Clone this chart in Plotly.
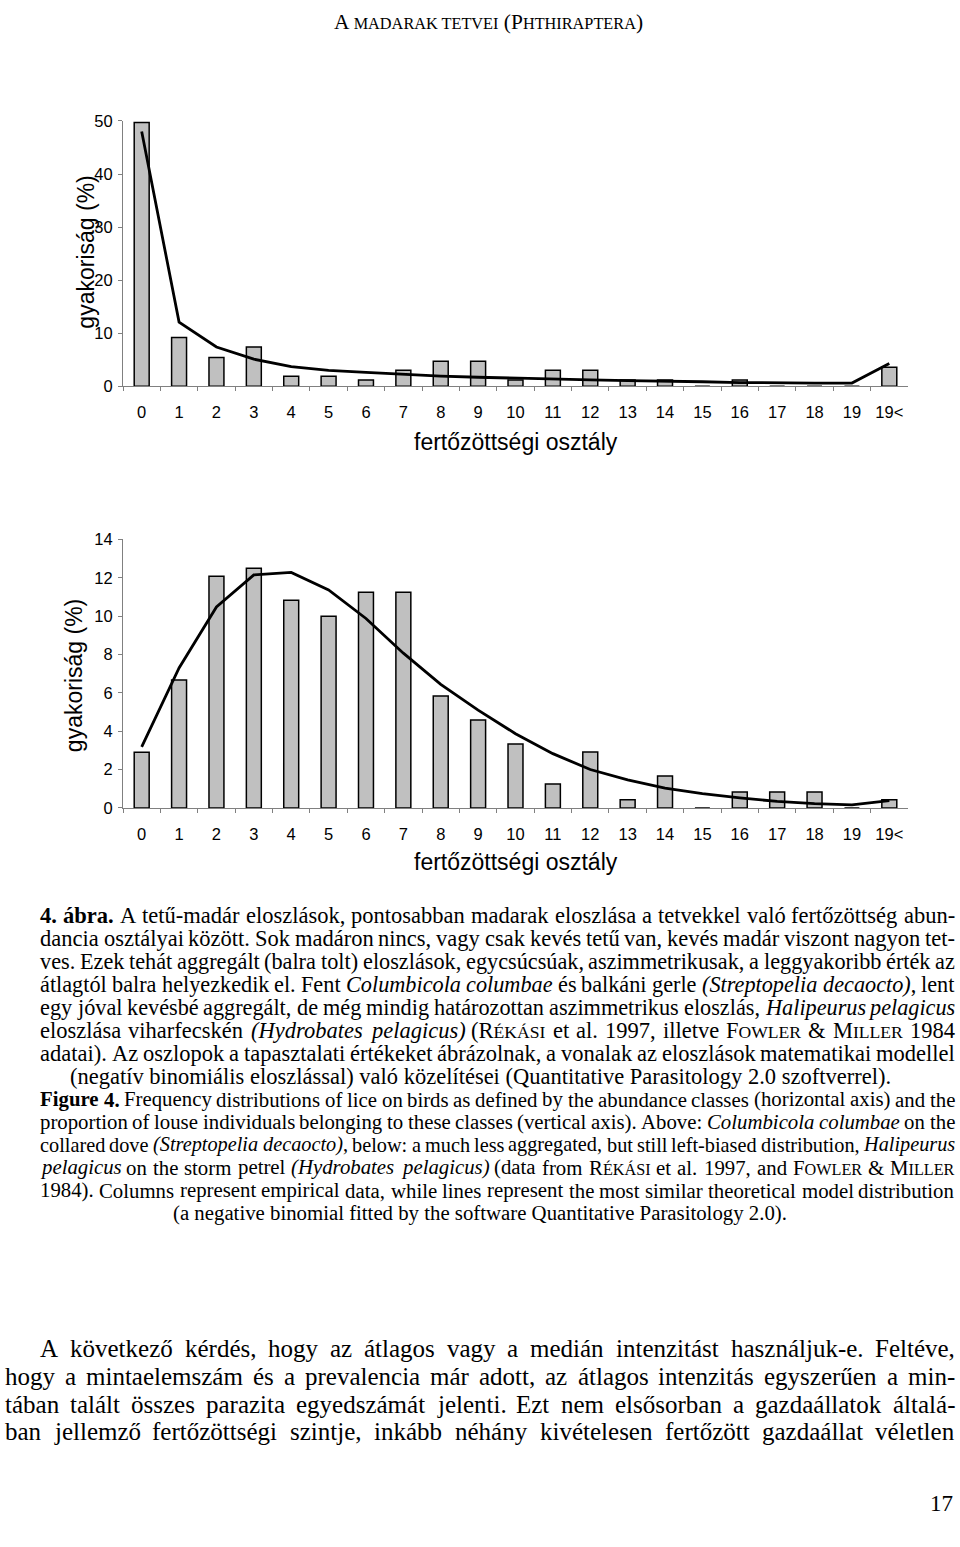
import re
import unicodedata
import plotly.graph_objects as go

W, H = 960, 1547

# ---------------- data ----------------
categories = [str(i) for i in range(20)] + ["19<"]
upper_observed = [49.7, 9.2, 5.4, 7.4, 1.9, 1.9, 1.2, 3.0, 4.7, 4.7, 1.2, 3.0, 3.0, 1.2, 1.2, 0, 1.2, 0, 0, 0, 3.6]
upper_fitted = [48.0, 12.1, 7.4, 5.1, 3.7, 3.0, 2.6, 2.2, 1.9, 1.7, 1.5, 1.35, 1.2, 1.05, 1.0, 0.85, 0.7, 0.6, 0.6, 0.6, 4.3]
lower_observed = [2.9, 6.67, 12.08, 12.5, 10.83, 10.0, 11.25, 11.25, 5.83, 4.58, 3.33, 1.25, 2.92, 0.42, 1.67, 0, 0.83, 0.83, 0.83, 0, 0.42]
lower_fitted = [3.18, 7.3, 10.48, 12.15, 12.28, 11.37, 9.88, 8.07, 6.44, 5.1, 3.87, 2.83, 2.0, 1.46, 1.03, 0.74, 0.52, 0.34, 0.22, 0.16, 0.38]
upper_ticks = [0, 10, 20, 30, 40, 50]
lower_ticks = [0, 2, 4, 6, 8, 10, 12, 14]
y_title = "gyakoriság (%)"
x_title = "fertőzöttségi osztály"

# ---------------- geometry helpers ----------------
def px(x):
    return x / W


def py(y):
    return 1 - y / H


SANS = "Arial, Liberation Sans, sans-serif"
SERIF = "Times New Roman, Liberation Serif, serif"

fig = go.Figure()

panels = [
    dict(xa="x", ya="y", top=113.3, bottom=381.7, obs=upper_observed, fit=upper_fitted,
         ymax=50, ticks=upper_ticks, ytx=86, yty=246.5, xty=438),
    dict(xa="x2", ya="y2", top=536.7, bottom=808.3, obs=lower_observed, fit=lower_fitted,
         ymax=14, ticks=lower_ticks, ytx=74, yty=675, xty=863),
]
left, right = 123, 908

annotations = []
for i, p in enumerate(panels):
    fig.add_trace(go.Bar(x=categories, y=p["obs"], width=0.4, xaxis=p["xa"], yaxis=p["ya"],
                         marker=dict(color="#c0c0c0", line=dict(color="black", width=1.5)),
                         showlegend=False))
    fig.add_trace(go.Scatter(x=categories, y=p["fit"], mode="lines", xaxis=p["xa"], yaxis=p["ya"],
                             line=dict(color="black", width=2.8), showlegend=False))
    suffix = "" if i == 0 else "2"
    fig.layout["xaxis" + suffix] = dict(
        domain=[px(left), px(right)], anchor=p["ya"], type="category", range=[-0.5, 20.5],
        showline=True, linecolor="#808080", linewidth=1, ticks="outside", ticklen=4,
        tickcolor="#808080", tickson="boundaries", showgrid=False, zeroline=False,
        tickfont=dict(family=SANS, size=16.5, color="black"), ticklabelstandoff=11,
        fixedrange=True)
    fig.layout["yaxis" + suffix] = dict(
        domain=[py(p["bottom"]), py(p["top"])], anchor=p["xa"], range=[0, p["ymax"]],
        tickvals=p["ticks"], showline=True, linecolor="#808080", linewidth=1,
        ticks="outside", ticklen=4, tickcolor="#808080", showgrid=False, zeroline=False,
        tickfont=dict(family=SANS, size=16.5, color="black"), ticklabelstandoff=2,
        fixedrange=True)
    annotations.append(dict(x=px(p["ytx"]), y=py(p["yty"]), xref="paper", yref="paper",
                            text=y_title, textangle=-90, showarrow=False,
                            font=dict(family=SANS, size=23, color="black"),
                            xanchor="center", yanchor="middle"))
    annotations.append(dict(x=px((left + right) / 2), y=py(p["xty"]), xref="paper", yref="paper",
                            text=x_title, showarrow=False,
                            font=dict(family=SANS, size=23, color="black"),
                            xanchor="center", yanchor="middle"))

# ---------------- text layout (Times metrics) ----------------
ROMAN = {' ': 250, '!': 333, '"': 408, '%': 833, '&': 778, "'": 180, '(': 333, ')': 333, '+': 564,
         ',': 250, '-': 333, '.': 250, '/': 278, ':': 278, ';': 278, '<': 564, '?': 444,
         'A': 722, 'B': 667, 'C': 667, 'D': 722, 'E': 611, 'F': 556, 'G': 722, 'H': 722, 'I': 333,
         'J': 389, 'K': 722, 'L': 611, 'M': 889, 'N': 722, 'O': 722, 'P': 556, 'Q': 722, 'R': 667,
         'S': 556, 'T': 611, 'U': 722, 'V': 722, 'W': 944, 'X': 722, 'Y': 722, 'Z': 611,
         'a': 444, 'b': 500, 'c': 444, 'd': 500, 'e': 444, 'f': 333, 'g': 500, 'h': 500, 'i': 278,
         'j': 278, 'k': 500, 'l': 278, 'm': 778, 'n': 500, 'o': 500, 'p': 500, 'q': 500, 'r': 333,
         's': 389, 't': 278, 'u': 500, 'v': 500, 'w': 722, 'x': 500, 'y': 500, 'z': 444}
for d in "0123456789":
    ROMAN[d] = 500
ITAL = dict(ROMAN)
ITAL.update({'a': 500, 'f': 278, 'k': 444, 'm': 722, 'r': 389, 'v': 444, 'w': 667, 'x': 444,
             'y': 444, 'z': 389, 'S': 500, 'P': 611})
BOLD = dict(ROMAN)
BOLD.update({'a': 500, 'b': 556, 'r': 444, 'u': 556, 'F': 611, 'g': 500})
SC = 0.78


def base(ch):
    return unicodedata.normalize("NFD", ch)[0]


def run_width(text, style, size):
    if style == "sc":
        return sum(ROMAN.get(base(c), 600) for c in text.upper()) * size * SC / 1000
    table = {"i": ITAL, "b": BOLD}.get(style, ROMAN)
    return sum(table.get(base(c), 500) for c in text) * size / 1000


TAG = re.compile(r"</?(i|b|sc)>")


def parse(s):
    words, cur, buf, style, k = [], [], "", "r", 0
    while k < len(s):
        m = TAG.match(s, k)
        if m:
            if buf:
                cur.append((buf, style))
                buf = ""
            style = "r" if m.group(0).startswith("</") else m.group(1)
            k = m.end()
            continue
        ch = s[k]
        if ch == " ":
            if buf:
                cur.append((buf, style))
                buf = ""
            if cur:
                words.append(cur)
                cur = []
        else:
            buf += ch
        k += 1
    if buf:
        cur.append((buf, style))
    if cur:
        words.append(cur)
    return words


def esc(t):
    return t.replace("&", "&amp;").replace("<", "&lt;").replace(">", "&gt;")


def html(runs, size):
    out = ""
    for t, st in runs:
        if st == "i":
            out += "<i>" + esc(t) + "</i>"
        elif st == "b":
            out += "<b>" + esc(t) + "</b>"
        elif st == "sc":
            out += '<span style="font-size:%.1fpx">%s</span>' % (size * SC, esc(t.upper()))
        else:
            out += esc(t)
    return out


def text_line(s, y, size, x0, x1, mode, center=None):
    words = parse(s)
    if mode == "c":
        font = dict(family=SERIF, size=size, color="black")
        full = " ".join(html(w, size) for w in words)
        cx = center if center is not None else (x0 + x1) / 2
        annotations.append(dict(text=full, x=px(cx), xanchor="center", xref="paper",
                                yref="paper", showarrow=False, yanchor="middle", borderpad=0,
                                borderwidth=0, font=font, y=py(y)))
        return
    # shrink the size of this line if the words would not fit with a minimal gap
    while True:
        widths = [sum(run_width(t, st, size) for t, st in w) for w in words]
        gap = (x1 - x0 - sum(widths)) / max(len(words) - 1, 1)
        if gap >= 0.2 * size or size < 10:
            break
        size -= 0.25
    font = dict(family=SERIF, size=size, color="black")
    common = dict(xref="paper", yref="paper", showarrow=False, yanchor="middle",
                  borderpad=0, borderwidth=0, font=font, y=py(y))
    x = x0
    for j, w in enumerate(words):
        if j == len(words) - 1 and len(words) > 1:
            annotations.append(dict(text=html(w, size), x=px(x1), xanchor="right", **common))
        else:
            annotations.append(dict(text=html(w, size), x=px(x), xanchor="left", **common))
        x += widths[j] + gap


hu_lines = [
    ("<b>4. ábra.</b> A tetű-madár eloszlások, pontosabban madarak eloszlása a tetvekkel való fertőzöttség abun-", "j"),
    ("dancia osztályai között. Sok madáron nincs, vagy csak kevés tetű van, kevés madár viszont nagyon tet-", "j"),
    ("ves. Ezek tehát aggregált (balra tolt) eloszlások, egycsúcsúak, aszimmetrikusak, a leggyakoribb érték az", "j"),
    ("átlagtól balra helyezkedik el. Fent <i>Columbicola columbae</i> és balkáni gerle <i>(Streptopelia decaocto)</i>, lent", "j"),
    ("egy jóval kevésbé aggregált, de még mindig határozottan aszimmetrikus eloszlás, <i>Halipeurus pelagicus</i>", "j"),
    ("eloszlása viharfecskén <i>(Hydrobates pelagicus)</i> (R<sc>ékási</sc> et al. 1997, illetve F<sc>owler</sc> & M<sc>iller</sc> 1984", "j"),
    ("adatai). Az oszlopok a tapasztalati értékeket ábrázolnak, a vonalak az eloszlások matematikai modellel", "j"),
    ("(negatív binomiális eloszlással) való közelítései (Quantitative Parasitology 2.0 szoftverrel).", "c"),
]
en_lines = [
    ("<b>Figure 4.</b> Frequency distributions of lice on birds as defined by the abundance classes (horizontal axis) and the", "j"),
    ("proportion of louse individuals belonging to these classes (vertical axis). Above: <i>Columbicola columbae</i> on the", "j"),
    ("collared dove <i>(Streptopelia decaocto)</i>, below: a much less aggregated, but still left-biased distribution, <i>Halipeurus</i>", "j"),
    ("<i>pelagicus</i> on the storm petrel <i>(Hydrobates pelagicus)</i> (data from R<sc>ékási</sc> et al. 1997, and F<sc>owler</sc> & M<sc>iller</sc>", "j"),
    ("1984). Columns represent empirical data, while lines represent the most similar theoretical model distribution", "j"),
    ("(a negative binomial fitted by the software Quantitative Parasitology 2.0).", "c"),
]
body_lines = [
    ("A következő kérdés, hogy az átlagos vagy a medián intenzitást használjuk-e. Feltéve,", 40),
    ("hogy a mintaelemszám és a prevalencia már adott, az átlagos intenzitás egyszerűen a min-", 5),
    ("tában talált összes parazita egyedszámát jelenti. Ezt nem elsősorban a gazdaállatok általá-", 5),
    ("ban jellemző fertőzöttségi szintje, inkább néhány kivételesen fertőzött gazdaállat véletlen", 5),
]

for k, (s, mode) in enumerate(hu_lines):
    text_line(s, 917 + 23.3 * k, 22.5, 40, 955, mode, center=480)
for k, (s, mode) in enumerate(en_lines):
    text_line(s, 1103 + 23.0 * k, 20.8, 40, 955, mode, center=480)
for k, (s, x0) in enumerate(body_lines):
    text_line(s, 1355.5 + 28 * k, 25, x0, 955, "j")

# running header and page number
annotations.append(dict(
    text='A <span style="font-size:16.3px">MADARAK TETVEI</span> (P<span style="font-size:16.3px">HTHIRAPTERA</span>)',
    x=px(488), y=py(13), xref="paper", yref="paper", showarrow=False, xanchor="center",
    yanchor="middle", font=dict(family=SERIF, size=21.4, color="black")))
annotations.append(dict(text="17", x=px(955), y=py(1512), xref="paper", yref="paper",
                        showarrow=False, xanchor="right", yanchor="middle",
                        font=dict(family=SERIF, size=23, color="black")))

fig.update_layout(width=W, height=H, margin=dict(l=0, r=0, t=0, b=0),
                  paper_bgcolor="white", plot_bgcolor="white", showlegend=False,
                  bargap=0.6, annotations=annotations)

fig.write_html("out.html", config={"displayModeBar": False},
               post_script="var st=document.createElement('style');"
                           "st.textContent='html,body{margin:0!important;padding:0!important;"
                           "overflow:hidden!important;}';"
                           "document.head.appendChild(st);")
